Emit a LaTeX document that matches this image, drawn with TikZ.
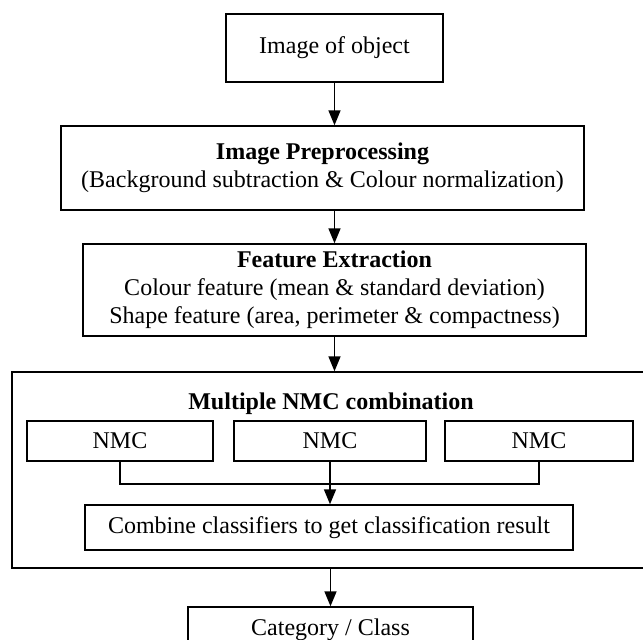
\documentclass[tikz,border=0pt]{standalone}
\usepackage{fontspec}
\setmainfont{Liberation Serif}
\usetikzlibrary{arrows.meta}
\begin{document}
\begin{tikzpicture}[x=0.5pt, y=-0.5pt,
    box/.style={draw, line width=0.7pt, inner sep=0pt, align=center,
                font=\fontsize{12}{14}\selectfont},
    flow/.style={line width=0.8pt, -{Triangle[length=7.5pt, width=6pt]}}]
      \useasboundingbox (0, 0) rectangle (643, 639);
      \node[box, minimum width=108.5pt, minimum height=34pt] (img) at (334.5, 48) {Image of object};
      \node[box, minimum width=261.5pt, minimum height=42pt] (pre) at (322.5, 168)
            {\textbf{Image Preprocessing}\\(Background subtraction \& Colour normalization)};
      \node[box, minimum width=251.5pt, minimum height=46pt] (feat) at (334.5, 290)
            {\textbf{Feature Extraction}\\Colour feature (mean \& standard deviation)\\Shape feature (area, perimeter \& compactness)};
      \node[box, minimum width=319pt, minimum height=98pt] (ens) at (331, 470) {};
      \node[font=\fontsize{12}{14}\selectfont\bfseries] (title) at (331, 404) {Multiple NMC combination};
      \node[box, minimum width=93pt, minimum height=20pt] (nmca) at (120, 441) {NMC};
      \node[box, minimum width=96pt, minimum height=20pt] (nmcb) at (330, 441) {NMC};
      \node[box, minimum width=94pt, minimum height=20pt] (nmcc) at (539, 441) {NMC};
      \node[box, minimum width=244pt, minimum height=22.5pt] (comb) at (329, 527.5)
            {Combine classifiers to get classification result};
      \node[box, minimum width=142.5pt, minimum height=23pt] (cat) at (330.5, 630) {Category / Class};
      \coordinate (join) at (330, 484);
      \draw[line width=0.7pt] (nmca.south) |- (join) -| (nmcc.south);
      \draw[flow] (img.south) -- (img.south |- pre.north);
      \draw[flow] (pre.south -| feat) -- (feat.north);
      \draw[flow] (feat.south) -- (feat.south |- ens.north);
      \draw[flow] (nmcb.south) -- (nmcb.south |- comb.north);
      \draw[flow] (ens.south -| cat) -- (cat.north);
\end{tikzpicture}
\end{document}
